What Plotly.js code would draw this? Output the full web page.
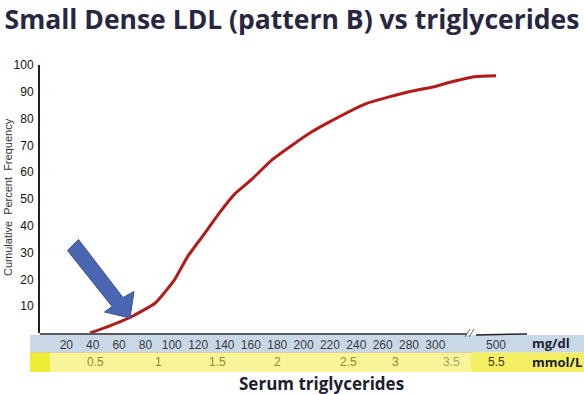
<!DOCTYPE html>
<html>
<head>
<meta charset="utf-8">
<script src="https://cdn.plot.ly/plotly-3.0.1.min.js"></script>
<style>html,body{margin:0;padding:0;background:#fff;}#chart{width:584px;height:394px;}</style>
</head>
<body>
<div id="chart"></div>
<script>
// ---- data ----
const trigMgdl = [38, 52, 67, 87, 94, 102, 112, 125, 136, 148, 161, 176, 191, 206, 219, 247, 280, 300, 330, 430, 500];
const cumPct   = [0, 2.5, 5.5, 11, 14.8, 19.8, 28.5, 37.2, 44.7, 52, 57.5, 64.6, 70, 75, 78.6, 85.5, 90, 92, 93, 95.6, 96];
const mgdlTicks = [20, 40, 60, 80, 100, 120, 140, 160, 180, 200, 220, 240, 260, 280, 300, 500];
const mmolLabels = ['0.5', '1', '1.5', '2', '2.5', '3', '3.5', '5.5'];
const mmolAtMgdl = [42, 90, 135, 180, 234, 270, 352, 500];
const yTicks = [10, 20, 30, 40, 50, 60, 70, 80, 90, 100];

// broken axis: values above 300 mg/dl are compressed
function brk(v) { return v <= 300 ? v : 300 + (v - 300) * 0.23; }

// layout geometry (pixels)
const W = 584, H = 394, L = 40, T = 65, PW = 485, PH = 268;
const px = p => (p - L) / PW;
const py = p => (T + PH - p) / PH;

const shapes = [];
function rect(x0, y0, x1, y1, color) {
  shapes.push({type: 'rect', xref: 'paper', yref: 'paper', x0: px(x0), x1: px(x1), y0: py(y1), y1: py(y0),
    fillcolor: color, line: {width: 0}, layer: 'below'});
}
function seg(x0, y0, x1, y1, color, w) {
  shapes.push({type: 'line', xref: 'paper', yref: 'paper', x0: px(x0), x1: px(x1), y0: py(y0), y1: py(y1),
    line: {color: color, width: w}});
}
rect(30, 335, 584, 352.5, '#c9d8e7');
rect(30, 352.5, 471, 372, '#f7f49a');
rect(471, 352.5, 584, 372, '#f4ef62');
rect(30, 352.5, 50, 372, '#efec35');
seg(30, 352.5, 471, 352.5, '#e2cf9a', 1);
// x axis line (broken)
seg(40, 334, 467, 334, '#222', 1.5);
seg(476, 335, 527, 334, '#222', 1.5);
seg(465, 337, 470, 329, '#666', 1);
seg(469, 337, 474, 329, '#666', 1);

// arrow polygon
const arrowPts = [[67.5, 250.5], [78.5, 239.5], [123, 297.5], [134, 291.5], [130, 318], [104.5, 312], [112, 306.5]];
shapes.push({type: 'path', xref: 'paper', yref: 'paper',
  path: 'M ' + arrowPts.map(p => px(p[0]) + ',' + py(p[1])).join(' L ') + ' Z',
  fillcolor: '#4a65b1', line: {color: '#3c5396', width: 1}, layer: 'above'});

const annotations = [];
// mmol/L row
mmolLabels.forEach((t, i) => {
  annotations.push({x: brk(mmolAtMgdl[i]), xref: 'x', y: py(362), yref: 'paper', text: t, showarrow: false,
    font: {family: 'Liberation Sans, Arial', size: 12, color: i === 7 ? '#3a3a20' : (i === 6 ? '#a9a655' : '#8f8c2a')},
    xanchor: 'center', yanchor: 'middle'});
});
annotations.push({x: px(530), xref: 'paper', y: py(343), yref: 'paper', text: '<b>mg/dl</b>', showarrow: false,
  font: {family: 'Open Sans', size: 13, color: '#1d1d30'}, xanchor: 'left', yanchor: 'middle'});
annotations.push({x: px(530), xref: 'paper', y: py(362), yref: 'paper', text: '<b>mmol/L</b>', showarrow: false,
  font: {family: 'Open Sans', size: 13, color: '#1d1d30'}, xanchor: 'left', yanchor: 'middle'});
annotations.push({x: px(321), xref: 'paper', y: py(383), yref: 'paper', text: '<b>Serum triglycerides</b>', showarrow: false,
  font: {family: 'Open Sans', size: 17, color: '#1d1d30'}, xanchor: 'center', yanchor: 'middle'});
annotations.push({x: px(8), xref: 'paper', y: py(197), yref: 'paper', text: 'Cumulative  Percent  Frequency', showarrow: false,
  textangle: -90, font: {family: 'Liberation Sans, Arial', size: 11, color: '#333'}, xanchor: 'center', yanchor: 'middle'});

const trace = {
  x: trigMgdl.map(brk), y: cumPct, type: 'scatter', mode: 'lines',
  line: {color: '#b31b1b', width: 3, shape: 'spline', smoothing: 0.5}, cliponaxis: false, hoverinfo: 'skip'
};

const layout = {
  width: W, height: H, margin: {l: L, r: W - L - PW, t: T, b: H - T - PH}, showlegend: false,
  paper_bgcolor: '#fff', plot_bgcolor: 'rgba(0,0,0,0)',
  title: {text: '<b>Small Dense LDL (pattern B) vs triglycerides</b>', xref: 'container', yref: 'container',
    x: 0.5, y: 1 - 20 / H, xanchor: 'center', yanchor: 'middle',
    font: {family: 'Open Sans', size: 26.5, color: '#272742'}},
  xaxis: {range: [0, 368], showgrid: false, zeroline: false, showline: false, ticks: '',
    tickmode: 'array', tickvals: mgdlTicks.map(brk), ticktext: mgdlTicks.map(String),
    tickfont: {family: 'Liberation Sans, Arial', size: 12, color: '#3a3a3a'}, ticklabelstandoff: 3},
  yaxis: {range: [0, 100], showgrid: false, zeroline: false, showline: true, linecolor: '#222', linewidth: 2,
    ticks: '', tickmode: 'array', tickvals: yTicks, ticktext: yTicks.map(String),
    tickfont: {family: 'Liberation Sans, Arial', size: 12, color: '#111'}, ticklabelstandoff: 2},
  shapes: shapes, annotations: annotations
};

Plotly.newPlot('chart', [trace], layout, {staticPlot: true, displayModeBar: false});
</script>
</body>
</html>
